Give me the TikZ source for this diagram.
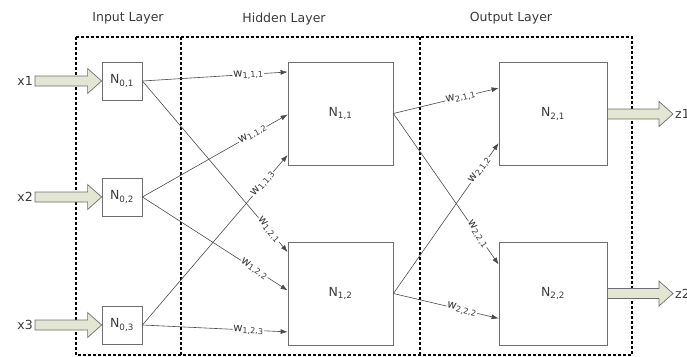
\documentclass[tikz,border=0pt]{standalone}
\usepackage{fontspec}
\setmainfont{DejaVu Sans}
\usetikzlibrary{arrows.meta, calc}
\definecolor{boxGray}{HTML}{6E6E6E}
\definecolor{wireGray}{HTML}{4A4A4A}
\definecolor{fatFill}{HTML}{E3E6D3}
\definecolor{txtGray}{HTML}{3A3A3A}

\begin{document}
\begin{tikzpicture}[x=1pt, y=-1pt,
    inbox/.style={rectangle, draw=boxGray, line width=0.8pt, minimum width=40pt,
                  minimum height=38pt, inner sep=0pt, font=\fontsize{12.5}{14}\selectfont, text=txtGray},
    neuron/.style={inbox, minimum width=105pt, minimum height=103pt},
    outneuron/.style={inbox, minimum width=108pt, minimum height=103pt},
    layerline/.style={line width=2.8pt, dash pattern=on 2.6pt off 2.4pt},
    layertitle/.style={font=\fontsize{12.5}{14}\selectfont, text=txtGray},
    iolabel/.style={font=\fontsize{12.5}{14}\selectfont, text=txtGray, inner sep=2pt},
    wire/.style={draw=wireGray, line width=0.6pt, -{Latex[length=7pt,width=5pt]}},
    wlabel/.style={fill=white, inner sep=0.6pt, sloped, font=\fontsize{11.5}{13}\selectfont, text=txtGray},
    fatarrow/.style={fill=fatFill, draw=boxGray, line width=0.7pt, line join=miter},
  ]
    \useasboundingbox (0,0) rectangle (687,356);

    % Layer frames
    \draw[layerline] (76,37) rectangle (632,355);
    \draw[layerline] (181,37) -- (181,355);
    \draw[layerline] (420,37) -- (420,355);
    \node[layertitle] (tin)  at (128,18) {Input Layer};
    \node[layertitle] (thid) at (284,19) {Hidden Layer};
    \node[layertitle] (tout) at (511,18) {Output Layer};

    % Input layer
    \node[inbox] (N01) at (122,81)  {N\textsubscript{0,1}};
    \node[inbox] (N02) at (122,197) {N\textsubscript{0,2}};
    \node[inbox] (N03) at (122,325) {N\textsubscript{0,3}};
    \node[iolabel, anchor=east] (x1) at (35,81)  {x1};
    \node[iolabel, anchor=east] (x2) at (35,197) {x2};
    \node[iolabel, anchor=east] (x3) at (35,325) {x3};

    % Hidden and output layer
    \node[neuron] (N11) at (340.5,113.5) {N\textsubscript{1,1}};
    \node[neuron] (N12) at (340.5,293.5) {N\textsubscript{1,2}};
    \node[outneuron] (N21) at (553,114)   {N\textsubscript{2,1}};
    \node[outneuron] (N22) at (553,293.5) {N\textsubscript{2,2}};
    \node[iolabel, anchor=west] (z1) at (673,114)   {z1};
    \node[iolabel, anchor=west] (z2) at (673,293.5) {z2};

    % Entry points on the left sides
    \coordinate (e111) at ($(N11.north west)!0.10!(N11.south west)$);
    \coordinate (e112) at ($(N11.north west)!0.51!(N11.south west)$);
    \coordinate (e113) at ($(N11.north west)!0.90!(N11.south west)$);
    \coordinate (e121) at ($(N12.north west)!0.10!(N12.south west)$);
    \coordinate (e122) at ($(N12.north west)!0.47!(N12.south west)$);
    \coordinate (e123) at ($(N12.north west)!0.87!(N12.south west)$);
    \coordinate (e211) at ($(N21.north west)!0.25!(N21.south west)$);
    \coordinate (e212) at ($(N21.north west)!0.78!(N21.south west)$);
    \coordinate (e221) at ($(N22.north west)!0.22!(N22.south west)$);
    \coordinate (e222) at ($(N22.north west)!0.74!(N22.south west)$);

    % Weighted connections
    \draw[wire] (N01.east) -- node[wlabel, pos=0.73] {w\textsubscript{1,1,1}} (e111);
    \draw[wire] (N02.east) -- node[wlabel, pos=0.76] {w\textsubscript{1,1,2}} (e112);
    \draw[wire] (N03.east) -- node[wlabel, pos=0.83] {w\textsubscript{1,1,3}} (e113);
    \draw[wire] (N01.east) -- node[wlabel, pos=0.87] {w\textsubscript{1,2,1}} (e121);
    \draw[wire] (N02.east) -- node[wlabel, pos=0.77] {w\textsubscript{1,2,2}} (e122);
    \draw[wire] (N03.east) -- node[wlabel, pos=0.73] {w\textsubscript{1,2,3}} (e123);
    \draw[wire] (N11.east) -- node[wlabel, pos=0.64] {w\textsubscript{2,1,1}} (e211);
    \draw[wire] (N12.east) -- node[wlabel, pos=0.82] {w\textsubscript{2,1,2}} (e212);
    \draw[wire] (N11.east) -- node[wlabel, pos=0.80] {w\textsubscript{2,2,1}} (e221);
    \draw[wire] (N12.east) -- node[wlabel, pos=0.65] {w\textsubscript{2,2,2}} (e222);

    % Thick input/output arrows
    \foreach \src/\dst in {x1/N01, x2/N02, x3/N03, N21/z1, N22/z2}{
      \path[fatarrow] let \p1=(\src.east), \p2=(\dst.west) in
        (\x1,\y1+5pt) -- (\x2-14pt,\y1+5pt) -- (\x2-14pt,\y1+12.5pt) -- (\x2,\y1)
        -- (\x2-14pt,\y1-12.5pt) -- (\x2-14pt,\y1-5pt) -- (\x1,\y1-5pt) -- cycle;
    }
\end{tikzpicture}
\end{document}
